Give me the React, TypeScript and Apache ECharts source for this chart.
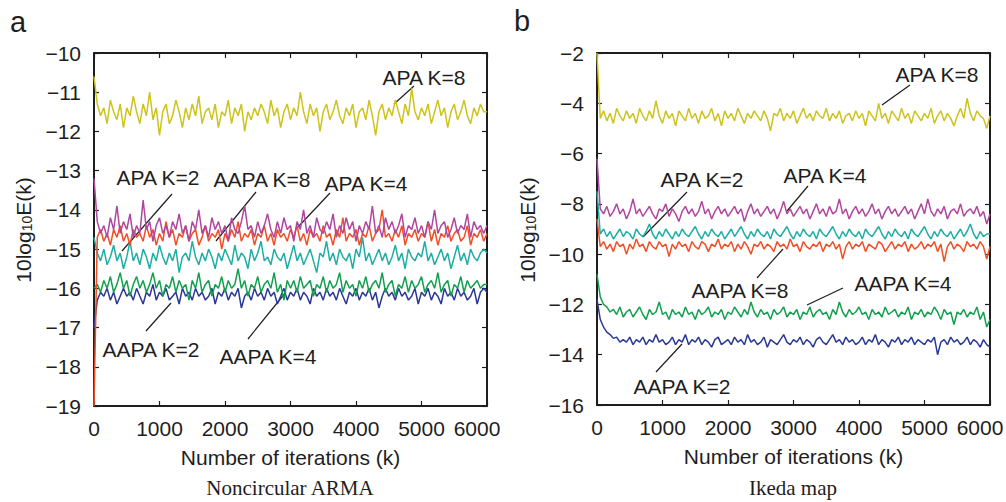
import React, { useEffect, useRef } from "react";
import * as echarts from "echarts";

// iterations are sampled every ITER_STEP
const ITER_STEP = 50;
const X_TICKS = [0, 1000, 2000, 3000, 4000, 5000, 6000];

// ---------- Panel a : Noncircular ARMA ----------
const A_APA8 = [
  -10.6, -11.3, -11.6, -11.4, -11.8, -11.2, -11.5, -11.7, -11.3, -11.9,
  -11.4, -11.6, -11.1, -11.5, -11.8, -11.3, -11.6, -11.0, -11.7, -11.4,
  -12.1, -11.5, -11.3, -11.8, -11.6, -11.2, -11.5, -11.9, -11.4, -11.7,
  -11.3, -11.6, -11.1, -11.8, -11.5, -11.4, -11.7, -11.3, -11.9, -11.5,
  -11.6, -11.2, -11.8, -11.4, -11.6, -11.3, -12.0, -11.5, -11.7, -11.4,
  -11.6, -11.3, -11.5, -11.8, -11.2, -11.6, -11.4, -11.9, -11.5, -11.3,
  -11.7, -11.4, -11.6, -11.0, -11.5, -11.8, -11.3, -11.6, -11.4, -12.0,
  -11.5, -11.3, -11.7, -11.5, -11.2, -11.6, -11.8, -11.4, -11.6, -11.3,
  -11.9, -11.5, -11.4, -11.7, -11.2, -11.6, -12.1, -11.5, -11.3, -11.7,
  -11.4, -11.6, -11.2, -11.5, -11.8, -11.3, -11.6, -10.9, -11.5, -11.7,
  -11.4, -11.6, -11.3, -11.8, -11.5, -11.2, -11.6, -11.4, -11.9, -11.5,
  -11.3, -11.7, -11.5, -11.2, -11.6, -11.8, -11.4, -11.6, -11.3, -11.5,
  -11.5,
];
const A_APA4 = [
  -13.2, -14.3, -14.6, -14.4, -14.7, -14.2, -14.5, -13.9, -14.6, -14.3,
  -14.5, -14.1, -14.7, -14.4, -14.6, -13.75, -14.5, -14.3, -14.8, -14.4,
  -14.2, -14.6, -14.4, -14.7, -14.3, -14.5, -14.1, -14.6, -14.4, -14.8,
  -14.3, -14.5, -14.0, -14.6, -14.4, -14.7, -14.2, -14.5, -14.3, -14.6,
  -14.4, -14.8, -14.2, -14.5, -14.6, -14.3, -13.9, -14.5, -14.4, -14.7,
  -14.3, -14.6, -14.4, -14.1, -14.5, -14.7, -14.3, -14.6, -14.2, -14.5,
  -14.4, -14.8, -14.3, -14.5, -14.0, -14.6, -14.4, -14.7, -14.2, -14.5,
  -14.6, -14.3, -14.5, -14.1, -14.7, -14.4, -14.6, -14.2, -14.5, -14.3,
  -14.8, -14.4, -14.6, -14.3, -14.5, -13.9, -14.6, -14.4, -14.7, -14.2,
  -14.5, -14.3, -14.6, -14.4, -14.1, -14.7, -14.4, -14.5, -14.2, -14.6,
  -14.4, -14.7, -14.3, -14.5, -14.0, -14.6, -14.4, -14.3, -14.7, -14.5,
  -14.2, -14.6, -14.4, -14.5, -14.1, -14.7, -14.3, -14.5, -14.4, -14.6,
  -14.4,
];
const A_APA2 = [
  -14.7, -15.1, -15.3, -15.0, -15.4, -15.2, -14.9, -15.3, -15.1, -15.5,
  -15.2, -14.8, -15.3, -15.1, -15.4, -15.0, -15.2, -15.5, -15.1, -15.3,
  -14.9, -15.2, -15.4, -15.1, -15.3, -15.0, -15.6, -15.2, -15.1, -15.3,
  -14.8, -15.2, -15.4, -15.1, -15.3, -15.0, -15.2, -15.5, -15.1, -15.3,
  -15.0, -15.2, -15.4, -14.9, -15.3, -15.1, -15.2, -15.5, -15.0, -15.3,
  -15.1, -14.8, -15.3, -15.2, -15.4, -15.0, -15.2, -15.3, -15.1, -15.5,
  -15.2, -14.9, -15.3, -15.1, -15.4, -15.2, -15.0, -15.3, -15.6, -15.1,
  -15.2, -14.8, -15.3, -15.1, -15.4, -15.0, -15.2, -15.3, -15.1, -15.5,
  -15.0, -15.2, -14.7, -15.3, -15.1, -15.4, -15.2, -15.0, -15.3, -15.1,
  -15.4, -15.2, -14.9, -15.3, -15.1, -15.5, -15.0, -15.2, -15.3, -15.1,
  -15.2, -14.8, -15.3, -15.1, -15.4, -15.2, -15.0, -15.3, -15.1, -15.5,
  -15.2, -14.9, -15.3, -15.1, -15.4, -15.0, -15.2, -15.3, -15.1, -15.0,
  -15.1,
];
const A_AAPA8 = [
  -19.0, -14.7, -14.5, -14.8, -14.6, -14.9, -14.5, -14.7, -14.4, -14.8,
  -14.6, -14.9, -14.5, -14.7, -14.6, -14.8, -14.4, -14.7, -14.5, -14.9,
  -14.6, -14.8, -14.3, -14.7, -14.5, -14.9, -14.6, -14.7, -14.4, -14.8,
  -14.6, -14.5, -14.9, -14.7, -14.4, -14.8, -14.6, -14.7, -14.5, -15.0,
  -14.6, -14.8, -14.5, -14.7, -14.3, -14.8, -14.6, -14.7, -14.5, -14.9,
  -14.6, -14.7, -14.4, -14.8, -14.6, -14.9, -14.5, -14.7, -14.6, -14.8,
  -14.5, -14.7, -14.4, -14.8, -14.6, -14.9, -14.5, -14.7, -14.6, -14.8,
  -14.4, -14.7, -14.6, -14.9, -14.5, -14.7, -14.2, -14.8, -14.6, -14.7,
  -14.5, -14.9, -14.6, -14.7, -14.4, -14.8, -14.6, -14.5, -14.0, -14.7,
  -14.6, -14.8, -14.5, -14.7, -14.4, -14.9, -14.6, -14.7, -14.5, -14.8,
  -14.6, -14.7, -14.3, -14.8, -14.5, -14.9, -14.6, -14.7, -14.4, -14.8,
  -14.6, -14.5, -14.8, -14.7, -14.4, -14.9, -14.6, -14.7, -14.5, -14.8,
  -14.6,
];
const A_AAPA4 = [
  -16.0, -15.9, -16.1, -15.8, -16.0, -15.7, -16.1, -15.9, -15.6, -16.0,
  -15.8, -16.2, -15.9, -15.7, -16.0, -15.8, -16.1, -15.9, -15.6, -16.0,
  -15.8, -16.2, -15.9, -16.0, -15.7, -16.1, -15.8, -16.0, -15.9, -16.3,
  -15.8, -16.0, -15.6, -16.1, -15.9, -15.8, -16.2, -15.9, -16.0, -15.7,
  -16.1, -15.8, -16.0, -15.9, -15.5, -16.0, -15.8, -16.2, -15.9, -16.0,
  -15.7, -16.1, -15.9, -15.8, -16.0, -15.6, -16.1, -15.9, -16.3, -15.8,
  -16.0, -15.8, -16.1, -15.7, -16.0, -15.9, -15.8, -16.2, -15.9, -16.0,
  -15.7, -16.1, -15.8, -16.0, -15.9, -15.6, -16.1, -15.8, -16.0, -15.9,
  -16.2, -15.8, -16.0, -15.7, -16.1, -15.9, -15.8, -16.0, -15.6, -16.1,
  -15.9, -15.8, -16.2, -15.9, -16.0, -15.7, -16.1, -15.8, -16.0, -15.9,
  -15.7, -16.1, -15.9, -15.8, -16.0, -15.6, -16.1, -15.9, -15.8, -16.2,
  -15.9, -16.0, -15.7, -16.1, -15.8, -16.0, -15.9, -15.8, -16.0, -15.9,
  -15.9,
];
const A_AAPA2 = [
  -17.0, -16.3, -16.1, -16.2, -16.0, -16.3, -16.1, -16.4, -16.2, -16.0,
  -16.2, -16.1, -16.3, -16.0, -16.2, -16.4, -16.1, -16.2, -15.9, -16.3,
  -16.1, -16.2, -16.0, -16.3, -16.2, -16.1, -16.4, -16.0, -16.2, -16.1,
  -16.3, -16.0, -16.2, -16.1, -16.3, -16.2, -16.0, -16.4, -16.1, -16.2,
  -16.0, -16.3, -16.1, -16.2, -16.0, -16.5, -16.2, -16.1, -16.3, -16.0,
  -16.2, -16.1, -16.3, -16.0, -16.2, -16.1, -16.4, -16.2, -16.0, -16.3,
  -16.1, -16.2, -16.0, -16.3, -16.1, -16.2, -16.4, -16.0, -16.2, -16.1,
  -16.3, -16.0, -16.2, -16.1, -16.3, -16.0, -16.2, -16.4, -16.1, -16.2,
  -16.0, -16.3, -16.1, -16.2, -16.0, -16.3, -16.1, -16.5, -16.2, -16.0,
  -16.2, -16.1, -16.3, -16.0, -16.2, -16.1, -16.3, -16.2, -16.0, -16.4,
  -16.1, -16.2, -16.0, -16.3, -16.1, -16.2, -16.4, -16.0, -16.2, -16.1,
  -16.3, -16.0, -16.2, -16.1, -16.3, -16.2, -16.0, -16.4, -16.1, -16.0,
  -16.1,
];

// ---------- Panel b : Ikeda map ----------
const B_APA8 = [
  -2.0, -4.6, -4.3, -4.7, -4.4, -4.8, -4.2, -4.5, -4.7, -4.3,
  -4.6, -4.4, -4.8, -4.2, -4.5, -4.7, -4.3, -4.6, -3.9, -4.5,
  -4.8, -4.3, -4.6, -4.4, -4.9, -4.3, -4.5, -4.7, -4.2, -4.6,
  -4.4, -4.8, -4.3, -4.6, -4.5, -4.2, -4.7, -4.4, -4.9, -4.3,
  -4.6, -4.4, -4.7, -4.2, -4.5, -4.8, -4.4, -4.6, -4.3, -4.5,
  -4.7, -4.3, -4.6, -5.1, -4.4, -4.5, -4.2, -4.7, -4.4, -4.6,
  -4.3, -4.8, -4.5, -4.2, -4.6, -4.4, -4.7, -4.3, -4.5, -4.6,
  -4.2, -4.7, -4.4, -4.6, -4.3, -4.8, -4.5, -4.4, -4.7, -4.3,
  -4.6, -4.4, -4.9, -4.3, -4.5, -4.7, -4.0, -4.6, -4.4, -4.8,
  -4.3, -4.5, -4.7, -4.2, -4.6, -4.4, -4.8, -4.3, -4.5, -4.7,
  -4.4, -4.6, -4.2, -4.8, -4.5, -4.3, -4.7, -4.4, -4.6, -4.9,
  -4.5, -4.2, -4.6, -3.8, -4.4, -4.7, -4.3, -4.5, -4.6, -5.0,
  -4.5,
];
const B_APA4 = [
  -6.2, -8.2, -8.4, -8.1, -8.5, -8.3, -8.0, -8.4, -8.2, -8.6,
  -8.3, -7.8, -8.4, -8.2, -8.5, -8.3, -8.1, -8.4, -8.6, -8.2,
  -8.3, -8.0, -8.5, -8.2, -8.4, -8.7, -8.3, -8.1, -8.4, -8.2,
  -8.5, -8.3, -7.9, -8.4, -8.2, -8.6, -8.3, -8.1, -8.4, -8.2,
  -8.5, -8.3, -8.1, -8.4, -8.2, -8.7, -8.3, -8.0, -8.4, -8.2,
  -8.5, -8.3, -8.1, -8.4, -8.2, -8.6, -8.3, -7.9, -8.4, -8.2,
  -8.5, -8.3, -8.1, -8.4, -8.2, -8.6, -8.3, -8.0, -8.4, -8.2,
  -8.5, -8.1, -8.4, -8.3, -7.8, -8.4, -8.2, -8.6, -8.3, -8.1,
  -8.4, -8.2, -8.5, -8.3, -8.0, -8.4, -8.2, -8.6, -8.3, -8.1,
  -8.4, -8.2, -8.5, -8.3, -8.1, -8.4, -8.2, -8.6, -8.3, -8.0,
  -8.4, -7.8, -8.3, -8.5, -8.2, -8.4, -8.1, -8.6, -8.3, -8.2,
  -8.4, -8.0, -8.5, -8.3, -8.2, -8.4, -8.1, -8.5, -8.3, -8.8,
  -8.4,
];
const B_APA2 = [
  -7.5, -9.2, -9.0, -9.3, -9.1, -9.4, -9.2, -9.0, -9.3, -9.1,
  -9.2, -9.4, -9.0, -9.2, -9.3, -9.1, -8.8, -9.2, -9.4, -9.1,
  -9.3, -9.0, -9.2, -9.4, -9.1, -9.3, -9.0, -9.2, -9.3, -9.1,
  -8.9, -9.2, -9.4, -9.1, -9.3, -9.0, -9.2, -9.3, -9.1, -9.4,
  -9.2, -9.0, -9.3, -9.1, -8.9, -9.2, -9.4, -9.1, -9.3, -9.0,
  -9.2, -9.3, -9.1, -9.4, -9.0, -9.2, -9.3, -9.1, -8.9, -9.2,
  -9.4, -9.1, -9.3, -9.0, -9.2, -9.3, -9.1, -9.4, -9.0, -9.2,
  -9.3, -9.1, -8.9, -9.2, -9.4, -9.1, -9.3, -9.0, -9.2, -9.3,
  -9.1, -9.4, -9.0, -9.2, -9.3, -9.1, -8.9, -9.2, -9.4, -9.1,
  -9.3, -9.0, -9.2, -9.3, -9.1, -9.4, -9.0, -9.2, -9.3, -9.1,
  -8.9, -9.2, -9.4, -9.1, -9.3, -9.0, -9.2, -9.3, -9.1, -9.4,
  -9.2, -9.0, -9.3, -9.1, -8.8, -9.2, -9.4, -9.1, -9.3, -9.2,
  -9.2,
];
const B_AAPA8 = [
  -8.6, -9.7, -9.5, -9.8, -9.6, -9.9, -9.5, -9.7, -9.6, -10.0,
  -9.6, -9.8, -9.4, -9.7, -9.6, -9.9, -9.5, -9.7, -9.8, -9.5,
  -9.7, -9.6, -10.1, -9.6, -9.8, -9.5, -9.7, -9.6, -9.9, -9.5,
  -9.7, -9.8, -9.5, -9.6, -9.9, -9.6, -9.7, -9.4, -9.8, -9.6,
  -9.7, -9.5, -9.9, -9.6, -9.8, -9.5, -9.7, -10.0, -9.6, -9.7,
  -9.5, -9.8, -9.6, -9.7, -9.9, -9.5, -9.7, -9.6, -9.8, -9.4,
  -9.7, -9.6, -9.9, -9.5, -9.7, -9.8, -9.6, -9.7, -9.5, -9.9,
  -9.6, -9.7, -9.5, -9.8, -9.6, -10.2, -9.7, -9.5, -9.8, -9.6,
  -9.7, -9.5, -9.9, -9.6, -9.7, -9.8, -9.5, -9.6, -9.9, -9.7,
  -9.5, -9.8, -9.6, -9.7, -9.5, -9.9, -9.6, -9.8, -9.7, -9.5,
  -9.8, -9.6, -9.7, -9.5, -9.9, -9.6, -10.3, -9.7, -9.5, -9.8,
  -9.6, -9.7, -9.9, -9.5, -9.7, -9.6, -9.8, -9.5, -9.7, -10.2,
  -9.7,
];
const B_AAPA4 = [
  -10.8, -11.7, -12.0, -12.1, -12.3, -12.2, -12.4, -12.1, -12.5, -12.3,
  -12.2, -12.5, -12.3, -12.1, -12.4, -12.6, -12.2, -12.4, -12.3, -11.9,
  -12.4, -12.3, -12.6, -12.2, -12.4, -12.3, -12.5, -12.1, -12.4, -12.3,
  -12.6, -12.2, -12.4, -12.3, -12.1, -12.5, -12.3, -12.4, -12.2, -12.6,
  -12.3, -12.4, -12.1, -12.3, -12.5, -12.2, -12.4, -11.9, -12.3, -12.5,
  -12.2, -12.4, -12.3, -12.6, -12.2, -12.4, -12.3, -12.1, -12.5, -12.3,
  -12.4, -12.2, -12.6, -12.3, -12.4, -12.1, -12.5, -12.3, -12.2, -12.4,
  -12.3, -12.6, -12.2, -12.4, -11.9, -12.3, -12.5, -12.2, -12.4, -12.3,
  -12.1, -12.4, -12.3, -12.6, -12.2, -12.4, -12.3, -12.5, -12.1, -12.4,
  -12.3, -12.2, -12.5, -12.3, -12.4, -12.1, -12.6, -12.3, -12.4, -12.2,
  -12.5, -12.3, -12.4, -12.1, -12.3, -12.6, -12.2, -12.4, -12.3, -12.8,
  -12.3, -12.4, -12.2, -12.5, -12.3, -12.4, -12.1, -12.6, -12.3, -12.9,
  -12.6,
];
const B_AAPA2 = [
  -11.8, -12.6, -12.9, -13.1, -13.2, -13.35, -13.3, -13.5, -13.4, -13.5,
  -13.3, -13.6, -13.4, -13.5, -13.3, -13.6, -13.4, -13.5, -13.2, -13.5,
  -13.4, -13.6, -13.5, -13.3, -13.6, -13.4, -13.5, -13.2, -13.6, -13.4,
  -13.5, -13.3, -13.6, -13.4, -13.5, -13.7, -13.4, -13.3, -13.6, -13.5,
  -13.4, -13.6, -13.3, -13.5, -13.4, -13.6, -13.2, -13.5, -13.4, -13.6,
  -13.5, -13.3, -13.7, -13.4, -13.5, -13.6, -13.4, -13.2, -13.5, -13.6,
  -13.4, -13.5, -13.3, -13.6, -13.4, -13.5, -13.7, -13.4, -13.3, -13.5,
  -13.6, -13.4, -13.2, -13.5, -13.4, -13.6, -13.3, -13.5, -13.4, -13.6,
  -13.5, -13.3, -13.6, -13.4, -13.5, -13.2, -13.6, -13.4, -13.5, -13.7,
  -13.4, -13.5, -13.3, -13.6, -13.4, -13.5, -13.3, -13.6, -13.4, -13.5,
  -13.6, -13.4, -13.5, -13.3, -14.0, -13.5, -13.4, -13.6, -13.3, -13.5,
  -13.4, -13.6, -13.5, -13.3, -13.6, -13.4, -13.5, -13.7, -13.4, -13.6,
  -13.7,
];

const A_Y_TICKS = { min: -19, max: -10, interval: 1 };
const B_Y_TICKS = { min: -16, max: -2, interval: 2 };

const COLORS = {
  yellow: "#cdc31c",
  magenta: "#b0469f",
  orange: "#f14e26",
  cyan: "#1eaea6",
  green: "#12a04e",
  blue: "#2b3996",
};

const SANS = '"Liberation Sans", Arial, Helvetica, sans-serif';
const SERIF = '"Liberation Serif", "Times New Roman", serif';
const INK = "#1e1e1e";

const minusFmt = (v: number) => String(v).replace("-", "\u2212");
const xFmt = (v: number) => (v === X_TICKS[X_TICKS.length - 1] ? `{m|${v}}` : String(v));

function toPoints(vals: number[]) {
  return vals.map((v, i) => [i * ITER_STEP, v]);
}

function line(name: string, vals: number[], color: string, axis: number) {
  return {
    type: "line",
    name,
    data: toPoints(vals),
    xAxisIndex: axis,
    yAxisIndex: axis,
    showSymbol: false,
    symbol: "none",
    silent: true,
    lineStyle: { color, width: 1.5 },
    itemStyle: { color },
  };
}

function xAxes(grid: number) {
  const common = {
    gridIndex: grid,
    type: "value",
    min: X_TICKS[0],
    max: X_TICKS[X_TICKS.length - 1],
    interval: 1000,
    splitLine: { show: false },
    axisLine: { show: true, onZero: false, lineStyle: { color: INK, width: 2 } },
    axisTick: { show: true, inside: true, length: 5, lineStyle: { color: INK, width: 1.2 } },
  };
  return [
    {
      ...common,
      position: "bottom",
      axisLabel: {
        show: true,
        fontFamily: SANS,
        fontSize: 21,
        color: INK,
        margin: 12,
        formatter: xFmt,
        rich: { m: { fontFamily: SANS, fontSize: 21, color: INK, padding: [0, 20, 0, 0] } },
      },
      name: "Number of iterations (k)",
      nameLocation: "middle",
      nameGap: 41,
      nameTextStyle: { fontFamily: SANS, fontSize: 21, color: INK },
    },
    { ...common, position: "top", axisLabel: { show: false } },
  ];
}

function yAxes(grid: number, t: { min: number; max: number; interval: number }) {
  const common = {
    gridIndex: grid,
    type: "value",
    min: t.min,
    max: t.max,
    interval: t.interval,
    splitLine: { show: false },
    axisLine: { show: true, onZero: false, lineStyle: { color: INK, width: 2 } },
    axisTick: { show: true, inside: true, length: 5, lineStyle: { color: INK, width: 1.2 } },
  };
  return [
    {
      ...common,
      position: "left",
      axisLabel: { show: true, fontFamily: SANS, fontSize: 21, color: INK, margin: 13, formatter: minusFmt },
    },
    { ...common, position: "right", axisLabel: { show: false } },
  ];
}

function label(text: string, x: number, y: number) {
  return {
    type: "text",
    x,
    y,
    silent: true,
    style: { text, fontFamily: SANS, fontSize: 21, fill: INK, align: "center", verticalAlign: "middle" },
  };
}
function leader(x1: number, y1: number, x2: number, y2: number) {
  return {
    type: "line",
    silent: true,
    shape: { x1, y1, x2, y2 },
    style: { stroke: INK, lineWidth: 1.2 },
  };
}
function yName(x: number, y: number) {
  return {
    type: "text",
    x,
    y,
    rotation: Math.PI / 2,
    silent: true,
    style: {
      text: "10log{s|10}E(k)",
      fontFamily: SANS,
      fontSize: 21,
      fill: INK,
      align: "center",
      verticalAlign: "middle",
      rich: {
        s: { fontFamily: SANS, fontSize: 14, fill: INK, verticalAlign: "bottom", padding: [8, 0, 0, 0] },
      },
    },
  };
}

export default function App() {
  const ref = useRef<HTMLDivElement>(null);
  useEffect(() => {
    if (!ref.current) return;
    const chart = echarts.init(ref.current, undefined, { renderer: "svg" });
    const option = {
      animation: false,
      backgroundColor: "#ffffff",
      grid: [
        { left: 94, top: 53, width: 393, height: 353, containLabel: false, outerBoundsMode: "none" },
        { left: 597, top: 53, width: 393, height: 352, containLabel: false, outerBoundsMode: "none" },
      ],
      xAxis: [...xAxes(0), ...xAxes(1)],
      yAxis: [...yAxes(0, A_Y_TICKS), ...yAxes(1, B_Y_TICKS)],
      series: [
        line("AAPA K=2", A_AAPA2, COLORS.blue, 0),
        line("AAPA K=4", A_AAPA4, COLORS.green, 0),
        line("APA K=2", A_APA2, COLORS.cyan, 0),
        line("AAPA K=8", A_AAPA8, COLORS.orange, 0),
        line("APA K=4", A_APA4, COLORS.magenta, 0),
        line("APA K=8", A_APA8, COLORS.yellow, 0),
        line("AAPA K=2", B_AAPA2, COLORS.blue, 2),
        line("AAPA K=4", B_AAPA4, COLORS.green, 2),
        line("AAPA K=8", B_AAPA8, COLORS.orange, 2),
        line("APA K=2", B_APA2, COLORS.cyan, 2),
        line("APA K=4", B_APA4, COLORS.magenta, 2),
        line("APA K=8", B_APA8, COLORS.yellow, 2),
      ],
      graphic: [
        { type: "text", x: 18, y: 22, silent: true, style: { text: "a", fontFamily: SANS, fontSize: 29, fill: INK, align: "center", verticalAlign: "middle" } },
        { type: "text", x: 522, y: 21, silent: true, style: { text: "b", fontFamily: SANS, fontSize: 29, fill: INK, align: "center", verticalAlign: "middle" } },
        yName(23, 230),
        yName(527, 230),
        { type: "text", x: 290, y: 488, silent: true, style: { text: "Noncircular ARMA", fontFamily: SERIF, fontSize: 21, fill: INK, align: "center", verticalAlign: "middle" } },
        { type: "text", x: 793, y: 488, silent: true, style: { text: "Ikeda map", fontFamily: SERIF, fontSize: 21, fill: INK, align: "center", verticalAlign: "middle" } },
        // panel a annotations
        label("APA K=8", 424, 77),
        leader(414, 86, 394, 104),
        label("APA K=2", 158, 177),
        leader(172, 194, 122, 251),
        label("AAPA K=8", 262, 179),
        leader(256, 192, 216, 241),
        label("APA K=4", 366, 183),
        leader(330, 193, 298, 227),
        label("AAPA K=2", 151, 349),
        leader(146, 331, 171, 303),
        label("AAPA K=4", 268, 356),
        leader(248, 339, 286, 292),
        // panel b annotations
        label("APA K=8", 937, 74),
        leader(910, 85, 882, 105),
        label("APA K=2", 702, 179),
        leader(687, 192, 643, 237),
        label("APA K=4", 825, 175),
        leader(808, 186, 787, 211),
        label("AAPA K=8", 740, 290),
        leader(757, 278, 783, 249),
        label("AAPA K=4", 903, 283),
        leader(843, 288, 807, 305),
        label("AAPA K=2", 682, 386),
        leader(656, 372, 682, 344),
      ],
    };
    chart.setOption(option as any);
    return () => chart.dispose();
  }, []);
  return (
    <div
      ref={ref}
      style={{ position: "absolute", left: 0, top: 0, width: 1006, height: 502, background: "#fff" }}
    />
  );
}
